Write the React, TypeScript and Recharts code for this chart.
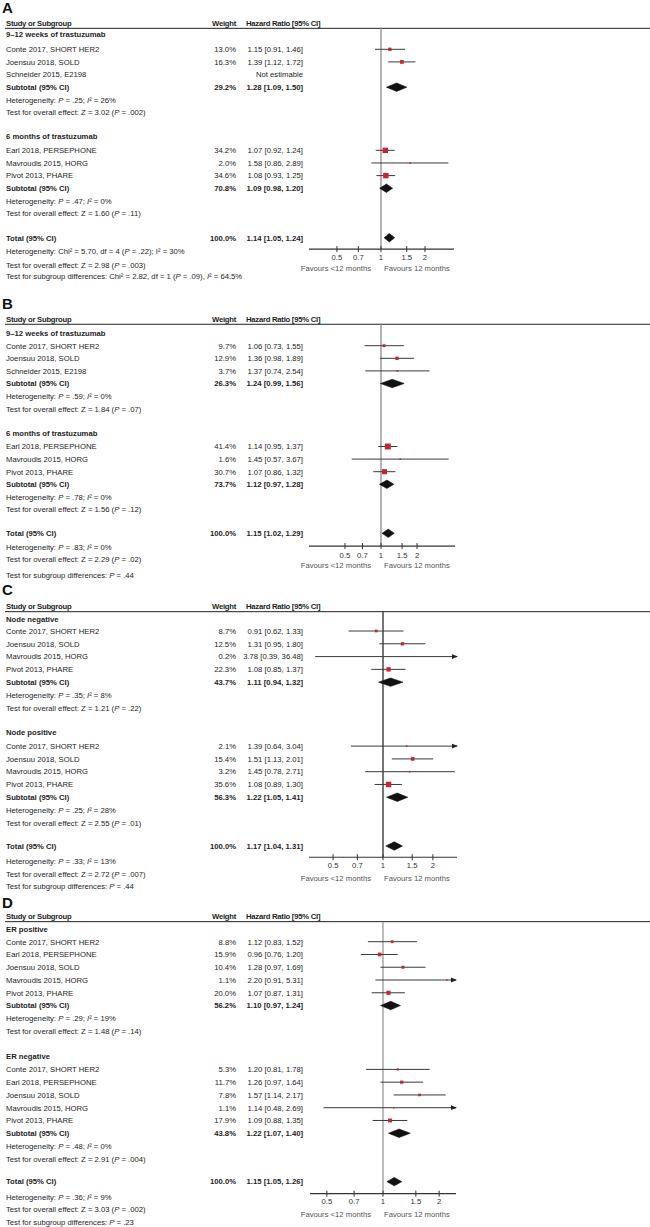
import React from 'react';
import { ComposedChart, Scatter, XAxis, YAxis } from 'recharts';

type Study = { row: number; name: string; weight: number | null; hr: number | null; lo: number | null; hi: number | null };
type Pooled = { row: number; name: string; weight: number; hr: number; lo: number; hi: number };
type TextLine = { row: number; text: string };

const TICKS = [0.5, 0.7, 1, 1.5, 2];
const TICK_LABELS = ['0.5', '0.7', '1', '1.5', '2'];
const HEADER_LABELS = ['Study or Subgroup', 'Weight', 'Hazard Ratio [95% CI]'];
const FAVOURS = ['Favours <12 months', 'Favours 12 months'];

// ---------- Panel A ----------
const A_HEADINGS: TextLine[] = [
  { row: -1.19, text: '9–12 weeks of trastuzumab' },
  { row: 6.92, text: '6 months of trastuzumab' },
];
const A_STUDIES: Study[] = [
  { row: 0, name: 'Conte 2017, SHORT HER2', weight: 13.0, hr: 1.15, lo: 0.91, hi: 1.46 },
  { row: 1, name: 'Joensuu 2018, SOLD', weight: 16.3, hr: 1.39, lo: 1.12, hi: 1.72 },
  { row: 2, name: 'Schneider 2015, E2198', weight: null, hr: null, lo: null, hi: null },
  { row: 8, name: 'Earl 2018, PERSEPHONE', weight: 34.2, hr: 1.07, lo: 0.92, hi: 1.24 },
  { row: 9, name: 'Mavroudis 2015, HORG', weight: 2.0, hr: 1.58, lo: 0.86, hi: 2.89 },
  { row: 10, name: 'Pivot 2013, PHARE', weight: 34.6, hr: 1.08, lo: 0.93, hi: 1.25 },
];
const A_POOLED: Pooled[] = [
  { row: 3, name: 'Subtotal (95% CI)', weight: 29.2, hr: 1.28, lo: 1.09, hi: 1.5 },
  { row: 11, name: 'Subtotal (95% CI)', weight: 70.8, hr: 1.09, lo: 0.98, hi: 1.2 },
  { row: 14.92, name: 'Total (95% CI)', weight: 100.0, hr: 1.14, lo: 1.05, hi: 1.24 },
];
const A_NOTES: TextLine[] = [
  { row: 4, text: 'Heterogeneity: *P* = .25; *I*² = 26%' },
  { row: 5, text: 'Test for overall effect: Z = 3.02 (*P* = .002)' },
  { row: 12, text: 'Heterogeneity: *P* = .47; *I*² = 0%' },
  { row: 13, text: 'Test for overall effect: Z = 1.60 (*P* = .11)' },
  { row: 15.97, text: 'Heterogeneity: Chi² = 5.70, df = 4 (*P* = .22); I² = 30%' },
  { row: 17.08, text: 'Test for overall effect: Z = 2.98 (*P* = .003)' },
  { row: 18, text: 'Test for subgroup differences: Chi² = 2.82, df = 1 (*P* = .09), *I*² = 64.5%' },
];

// ---------- Panel B ----------
const B_HEADINGS: TextLine[] = [
  { row: -0.98, text: '9–12 weeks of trastuzumab' },
  { row: 6.95, text: '6 months of trastuzumab' },
];
const B_STUDIES: Study[] = [
  { row: 0, name: 'Conte 2017, SHORT HER2', weight: 9.7, hr: 1.06, lo: 0.73, hi: 1.55 },
  { row: 1, name: 'Joensuu 2018, SOLD', weight: 12.9, hr: 1.36, lo: 0.98, hi: 1.89 },
  { row: 2, name: 'Schneider 2015, E2198', weight: 3.7, hr: 1.37, lo: 0.74, hi: 2.54 },
  { row: 8, name: 'Earl 2018, PERSEPHONE', weight: 41.4, hr: 1.14, lo: 0.95, hi: 1.37 },
  { row: 9, name: 'Mavroudis 2015, HORG', weight: 1.6, hr: 1.45, lo: 0.57, hi: 3.67 },
  { row: 10, name: 'Pivot 2013, PHARE', weight: 30.7, hr: 1.07, lo: 0.86, hi: 1.32 },
];
const B_POOLED: Pooled[] = [
  { row: 3, name: 'Subtotal (95% CI)', weight: 26.3, hr: 1.24, lo: 0.99, hi: 1.56 },
  { row: 11, name: 'Subtotal (95% CI)', weight: 73.7, hr: 1.12, lo: 0.97, hi: 1.28 },
  { row: 14.89, name: 'Total (95% CI)', weight: 100.0, hr: 1.15, lo: 1.02, hi: 1.29 },
];
const B_NOTES: TextLine[] = [
  { row: 4, text: 'Heterogeneity: *P* = .59; *I*² = 0%' },
  { row: 5, text: 'Test for overall effect: Z = 1.84 (*P* = .07)' },
  { row: 12, text: 'Heterogeneity: *P* = .78; *I*² = 0%' },
  { row: 13, text: 'Test for overall effect: Z = 1.56 (*P* = .12)' },
  { row: 16.03, text: 'Heterogeneity: *P* = .83; *I*² = 0%' },
  { row: 16.98, text: 'Test for overall effect: Z = 2.29 (*P* = .02)' },
  { row: 18.2, text: 'Test for subgroup differences: *P* = .44' },
];

// ---------- Panel C ----------
const C_HEADINGS: TextLine[] = [
  { row: -0.91, text: 'Node negative' },
  { row: 7.95, text: 'Node positive' },
];
const C_STUDIES: Study[] = [
  { row: 0, name: 'Conte 2017, SHORT HER2', weight: 8.7, hr: 0.91, lo: 0.62, hi: 1.33 },
  { row: 1, name: 'Joensuu 2018, SOLD', weight: 12.5, hr: 1.31, lo: 0.95, hi: 1.8 },
  { row: 2, name: 'Mavroudis 2015, HORG', weight: 0.2, hr: 3.78, lo: 0.39, hi: 36.48 },
  { row: 3, name: 'Pivot 2013, PHARE', weight: 22.3, hr: 1.08, lo: 0.85, hi: 1.37 },
  { row: 9, name: 'Conte 2017, SHORT HER2', weight: 2.1, hr: 1.39, lo: 0.64, hi: 3.04 },
  { row: 10, name: 'Joensuu 2018, SOLD', weight: 15.4, hr: 1.51, lo: 1.13, hi: 2.01 },
  { row: 11, name: 'Mavroudis 2015, HORG', weight: 3.2, hr: 1.45, lo: 0.78, hi: 2.71 },
  { row: 12, name: 'Pivot 2013, PHARE', weight: 35.6, hr: 1.08, lo: 0.89, hi: 1.3 },
];
const C_POOLED: Pooled[] = [
  { row: 4, name: 'Subtotal (95% CI)', weight: 43.7, hr: 1.11, lo: 0.94, hi: 1.32 },
  { row: 13, name: 'Subtotal (95% CI)', weight: 56.3, hr: 1.22, lo: 1.05, hi: 1.41 },
  { row: 16.81, name: 'Total (95% CI)', weight: 100.0, hr: 1.17, lo: 1.04, hi: 1.31 },
];
const C_NOTES: TextLine[] = [
  { row: 5, text: 'Heterogeneity: *P* = .35; *I*² = 8%' },
  { row: 6, text: 'Test for overall effect: Z = 1.21 (*P* = .22)' },
  { row: 14, text: 'Heterogeneity: *P* = .25; *I*² = 28%' },
  { row: 15, text: 'Test for overall effect: Z = 2.55 (*P* = .01)' },
  { row: 17.98, text: 'Heterogeneity: *P* = .33; *I*² = 13%' },
  { row: 19, text: 'Test for overall effect: Z = 2.72 (*P* = .007)' },
  { row: 19.99, text: 'Test for subgroup differences: *P* = .44' },
];

// ---------- Panel D ----------
const D_HEADINGS: TextLine[] = [
  { row: -0.97, text: 'ER positive' },
  { row: 8.95, text: 'ER negative' },
];
const D_STUDIES: Study[] = [
  { row: 0, name: 'Conte 2017, SHORT HER2', weight: 8.8, hr: 1.12, lo: 0.83, hi: 1.52 },
  { row: 1, name: 'Earl 2018, PERSEPHONE', weight: 15.9, hr: 0.96, lo: 0.76, hi: 1.2 },
  { row: 2, name: 'Joensuu 2018, SOLD', weight: 10.4, hr: 1.28, lo: 0.97, hi: 1.69 },
  { row: 3, name: 'Mavroudis 2015, HORG', weight: 1.1, hr: 2.2, lo: 0.91, hi: 5.31 },
  { row: 4, name: 'Pivot 2013, PHARE', weight: 20.0, hr: 1.07, lo: 0.87, hi: 1.31 },
  { row: 10, name: 'Conte 2017, SHORT HER2', weight: 5.3, hr: 1.2, lo: 0.81, hi: 1.78 },
  { row: 11, name: 'Earl 2018, PERSEPHONE', weight: 11.7, hr: 1.26, lo: 0.97, hi: 1.64 },
  { row: 12, name: 'Joensuu 2018, SOLD', weight: 7.8, hr: 1.57, lo: 1.14, hi: 2.17 },
  { row: 13, name: 'Mavroudis 2015, HORG', weight: 1.1, hr: 1.14, lo: 0.48, hi: 2.69 },
  { row: 14, name: 'Pivot 2013, PHARE', weight: 17.9, hr: 1.09, lo: 0.88, hi: 1.35 },
];
const D_POOLED: Pooled[] = [
  { row: 5, name: 'Subtotal (95% CI)', weight: 56.2, hr: 1.1, lo: 0.97, hi: 1.24 },
  { row: 15, name: 'Subtotal (95% CI)', weight: 43.8, hr: 1.22, lo: 1.07, hi: 1.4 },
  { row: 18.79, name: 'Total (95% CI)', weight: 100.0, hr: 1.15, lo: 1.05, hi: 1.26 },
];
const D_NOTES: TextLine[] = [
  { row: 6, text: 'Heterogeneity: *P* = .29; *I*² = 19%' },
  { row: 7, text: 'Test for overall effect: Z = 1.48 (*P* = .14)' },
  { row: 16, text: 'Heterogeneity: *P* = .48; *I*² = 0%' },
  { row: 17, text: 'Test for overall effect: Z = 2.91 (*P* = .004)' },
  { row: 19.97, text: 'Heterogeneity: *P* = .36; *I*² = 9%' },
  { row: 20.96, text: 'Test for overall effect: Z = 3.03 (*P* = .002)' },
  { row: 22, text: 'Test for subgroup differences: *P* = .23' },
];

// ---------- layout / style ----------
const FONT = '"Liberation Sans", Arial, Helvetica, sans-serif';
const FS = 7.7;
const TXT = '#1e1e1e';
const RED = '#c3262e';
const CI_COLOR = '#3a3a3a';
const NAME_X = 6;
const WEIGHT_END = 236;
const HR_END = 303;
const HR_HEAD_X = 246;
const FAV_LEFT_END = 371;
const FAV_RIGHT_START = 384;

type PanelCfg = {
  id: string; top: number; height: number; row0: number; step: number;
  plotLeft: number; plotRight: number; domain: [number, number];
  letterRow: number; headerRow: number; ruleRow: number; axisRow: number; tickLabelRow: number; favRow: number;
  refColor: string;
  headings: TextLine[]; studies: Study[]; pooled: Pooled[]; notes: TextLine[];
};

const PANELS: PanelCfg[] = [
  { id: 'A', top: 0, height: 285, row0: 49.3, step: 12.63, plotLeft: 309, plotRight: 454, domain: [0.322, 3.157],
    letterRow: -3.31, headerRow: -2.1, ruleRow: -1.66, axisRow: 15.82, tickLabelRow: 16.47, favRow: 17.34,
    refColor: '#8c8c8c', headings: A_HEADINGS, studies: A_STUDIES, pooled: A_POOLED, notes: A_NOTES },
  { id: 'B', top: 285, height: 297, row0: 345.7, step: 12.6, plotLeft: 309, plotRight: 455, domain: [0.2504, 4.15],
    letterRow: -3.37, headerRow: -2.1, ruleRow: -1.7, axisRow: 15.9, tickLabelRow: 16.61, favRow: 17.46,
    refColor: '#8c8c8c', headings: B_HEADINGS, studies: B_STUDIES, pooled: B_POOLED, notes: B_NOTES },
  { id: 'C', top: 582, height: 310, row0: 631, step: 12.79, plotLeft: 309, plotRight: 457, domain: [0.3578, 2.795],
    letterRow: -3.24, headerRow: -1.9, ruleRow: -1.51, axisRow: 17.69, tickLabelRow: 18.35, favRow: 19.29,
    refColor: '#2a2a2a', headings: C_HEADINGS, studies: C_STUDIES, pooled: C_POOLED, notes: C_NOTES },
  { id: 'D', top: 892, height: 335, row0: 941.7, step: 12.77, plotLeft: 310, plotRight: 456, domain: [0.4061, 2.4625],
    letterRow: -3.05, headerRow: -1.96, ruleRow: -1.57, axisRow: 19.73, tickLabelRow: 20.36, favRow: 21.32,
    refColor: '#999999', headings: D_HEADINGS, studies: D_STUDIES, pooled: D_POOLED, notes: D_NOTES },
];

const fmtW = (w: number) => `${w.toFixed(1)}%`;
const fmtCI = (hr: number, lo: number, hi: number) => `${hr.toFixed(2)} [${lo.toFixed(2)}, ${hi.toFixed(2)}]`;

function rich(text: string) {
  return text.split('*').map((s, i) => (
    <tspan key={i} fontStyle={i % 2 ? 'italic' : 'normal'}>{s}</tspan>
  ));
}

const NoMark = () => <g />;

function TextMark(props: any) {
  const d = props.payload ?? props;
  const cx = props.cx as number;
  const cy = props.cy as number;
  const base = cy + 2.8;
  const common = { fontFamily: FONT, fontSize: FS, fill: TXT };
  switch (d.kind) {
    case 'letter':
      return <text x={2} y={cy + 5.6} fontFamily={FONT} fontSize={15} fontWeight="bold" fill="#111">{d.text}</text>;
    case 'header':
      return (
        <g {...common} fontWeight="bold" letterSpacing={-0.25}>
          <text x={NAME_X} y={base}>{HEADER_LABELS[0]}</text>
          <text x={WEIGHT_END} y={base} textAnchor="end">{HEADER_LABELS[1]}</text>
          <text x={HR_HEAD_X} y={base}>{HEADER_LABELS[2]}</text>
        </g>
      );
    case 'rule':
      return <line x1={5} x2={650} y1={cy} y2={cy} stroke="#222" strokeWidth={1} />;
    case 'heading':
      return <text x={NAME_X} y={base} {...common} fontWeight="bold">{d.text}</text>;
    case 'study':
    case 'pooled':
      return (
        <g {...common} fontWeight={d.kind === 'pooled' ? 'bold' : 'normal'}>
          <text x={NAME_X} y={base}>{d.name}</text>
          <text x={WEIGHT_END} y={base} textAnchor="end">{d.weight}</text>
          <text x={HR_END} y={base} textAnchor="end">{d.ci}</text>
        </g>
      );
    case 'note':
      return <text x={NAME_X} y={base} {...common}>{rich(d.text)}</text>;
    case 'tick':
      return <text x={cx} y={base} {...common} fill="#333" textAnchor="middle">{d.text}</text>;
    case 'fav':
      return (
        <g {...common} fill="#555">
          <text x={FAV_LEFT_END} y={base} textAnchor="end">{FAVOURS[0]}</text>
          <text x={FAV_RIGHT_START} y={base}>{FAVOURS[1]}</text>
        </g>
      );
    default:
      return <g />;
  }
}

function SquareMark(props: any) {
  const d = props.payload ?? props;
  const s = Math.max(1.6, 0.92 * Math.sqrt(d.w));
  return <rect x={props.cx - s / 2} y={props.cy - s / 2} width={s} height={s} fill={RED} />;
}

function ArrowMark(props: any) {
  const d = props.payload ?? props;
  const cx = props.cx as number;
  const cy = props.cy as number;
  const dir = d.dir as number;
  return <polygon points={`${cx + dir},${cy} ${cx - 5 * dir},${cy - 2.4} ${cx - 5 * dir},${cy + 2.4}`} fill="#222" />;
}

function TickMark(props: any) {
  return <line x1={props.cx} x2={props.cx} y1={props.cy - 3} y2={props.cy + 3} stroke="#333" strokeWidth={1} />;
}

function Panel({ cfg }: { cfg: PanelCfg }) {
  const off = cfg.row0 - cfg.top;
  const yMin = -off / cfg.step;
  const yMax = (cfg.height - off) / cfg.step;
  const [dMin, dMax] = cfg.domain;
  const clamp = (v: number) => Math.min(dMax, Math.max(dMin, v));
  const diamondHalf = 4.2 / cfg.step;

  const textData: any[] = [
    { x: 1, y: cfg.letterRow, kind: 'letter', text: cfg.id },
    { x: 1, y: cfg.headerRow, kind: 'header' },
    { x: 1, y: cfg.ruleRow, kind: 'rule' },
    ...cfg.headings.map((h) => ({ x: 1, y: h.row, kind: 'heading', text: h.text })),
    ...cfg.studies.map((s) => ({
      x: 1, y: s.row, kind: 'study', name: s.name,
      weight: s.weight == null ? '' : fmtW(s.weight),
      ci: s.hr == null || s.lo == null || s.hi == null ? 'Not estimable' : fmtCI(s.hr, s.lo, s.hi),
    })),
    ...cfg.pooled.map((p) => ({ x: 1, y: p.row, kind: 'pooled', name: p.name, weight: fmtW(p.weight), ci: fmtCI(p.hr, p.lo, p.hi) })),
    ...cfg.notes.map((n) => ({ x: 1, y: n.row, kind: 'note', text: n.text })),
    ...TICKS.map((t, i) => ({ x: t, y: cfg.tickLabelRow, kind: 'tick', text: TICK_LABELS[i] })),
    { x: 1, y: cfg.favRow, kind: 'fav' },
  ];

  const est = cfg.studies.filter((s) => s.hr != null && s.lo != null && s.hi != null) as Required<Study>[];
  const squares = est.filter((s) => (s.hr as number) > dMin && (s.hr as number) < dMax).map((s) => ({ x: s.hr, y: s.row, w: s.weight }));
  const arrows: any[] = [];
  est.forEach((s) => {
    if ((s.hi as number) > dMax) arrows.push({ x: dMax, y: s.row, dir: 1 });
    if ((s.lo as number) < dMin) arrows.push({ x: dMin, y: s.row, dir: -1 });
  });
  const tickData = TICKS.map((t) => ({ x: t, y: cfg.axisRow }));

  return (
    <ComposedChart
      width={650}
      height={cfg.height}
      margin={{ top: 0, right: 650 - cfg.plotRight, bottom: 0, left: cfg.plotLeft }}
    >
      <XAxis type="number" dataKey="x" scale="log" domain={cfg.domain} hide />
      <YAxis type="number" dataKey="y" domain={[yMin, yMax]} reversed hide />
      <Scatter data={textData} shape={TextMark} isAnimationActive={false} />
      <Scatter
        data={[{ x: 1, y: cfg.ruleRow }, { x: 1, y: cfg.axisRow }]}
        line={{ stroke: cfg.refColor, strokeWidth: 1.3 }}
        shape={NoMark}
        isAnimationActive={false}
      />
      <Scatter
        data={[{ x: dMin, y: cfg.axisRow }, { x: dMax, y: cfg.axisRow }]}
        line={{ stroke: '#333', strokeWidth: 1.2 }}
        shape={NoMark}
        isAnimationActive={false}
      />
      <Scatter data={tickData} shape={TickMark} isAnimationActive={false} />
      {est.map((s, i) => (
        <Scatter
          key={`ci-${i}`}
          data={[{ x: clamp(s.lo as number), y: s.row }, { x: clamp(s.hi as number), y: s.row }]}
          line={{ stroke: CI_COLOR, strokeWidth: 1 }}
          shape={NoMark}
          isAnimationActive={false}
        />
      ))}
      <Scatter data={squares} shape={SquareMark} isAnimationActive={false} />
      <Scatter data={arrows} shape={ArrowMark} isAnimationActive={false} />
      {cfg.pooled.map((p, i) => (
        <Scatter
          key={`dm-${i}`}
          data={[
            { x: p.lo, y: p.row },
            { x: p.hr, y: p.row - diamondHalf },
            { x: p.hi, y: p.row },
            { x: p.hr, y: p.row + diamondHalf },
            { x: p.lo, y: p.row },
          ]}
          line={{ stroke: '#111', strokeWidth: 0.6, fill: '#111' }}
          shape={NoMark}
          isAnimationActive={false}
        />
      ))}
    </ComposedChart>
  );
}

export default function App() {
  return (
    <div style={{ position: 'absolute', left: 0, top: 0, width: 650, height: 1227, background: '#fff' }}>
      {PANELS.map((p) => (
        <Panel key={p.id} cfg={p} />
      ))}
    </div>
  );
}
